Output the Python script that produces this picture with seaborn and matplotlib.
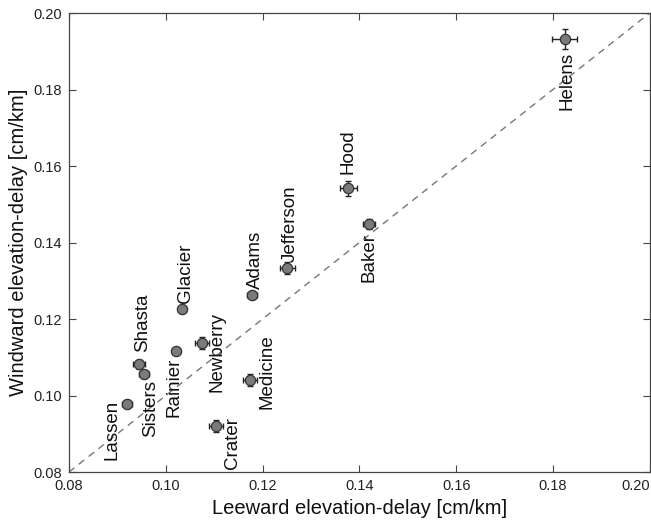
import numpy as np
import pandas as pd
import matplotlib
matplotlib.use("Agg")
import matplotlib.pyplot as plt
import seaborn as sns

# volcano names and delay gradients
volcanoes = ["Helens", "Hood", "Baker", "Jefferson", "Adams", "Glacier", "Newberry",
             "Rainier", "Shasta", "Sisters", "Lassen", "Crater", "Medicine"]
leeward = [0.1824, 0.1377, 0.1420, 0.1251, 0.1178, 0.1034, 0.1075,
           0.1021, 0.0945, 0.0955, 0.0920, 0.1104, 0.1174]
windward = [0.1932, 0.1542, 0.1448, 0.1333, 0.1262, 0.1226, 0.1137,
            0.1116, 0.1082, 0.1056, 0.0978, 0.0920, 0.1040]
leeward_err = [0.0026, 0.0018, 0.0013, 0.0015, 0.0010, 0.0007, 0.0015,
               0.0008, 0.0012, 0.0010, 0.0010, 0.0015, 0.0015]
windward_err = [0.0026, 0.0020, 0.0013, 0.0015, 0.0010, 0.0007, 0.0015,
                0.0008, 0.0012, 0.0010, 0.0010, 0.0015, 0.0015]

# label placement (pixel offset from point, vertical alignment)
label_dx = [2, 0, 0, 3, 4, 3, 15, -2, 3, 7, -15, 16, 17]
label_dy = [-13, 14, -9, 6, 6, 6, -9, -6, 12, -6, 4, 9, 9]
label_va = ["top", "bottom", "top", "bottom", "bottom", "bottom", "center",
            "top", "bottom", "top", "top", "top", "center"]

df = pd.DataFrame({"volcano": volcanoes, "leeward": leeward, "windward": windward,
                   "xerr": leeward_err, "yerr": windward_err})

sns.set_theme(style="ticks")
plt.rcParams["font.family"] = ["Liberation Sans", "DejaVu Sans"]

fig = plt.figure(figsize=(6.51, 5.21), dpi=100)
ax = fig.add_axes([0.106, 0.094, 0.892, 0.881])

lims = [0.08, 0.20]
ax.plot(lims, lims, ls=(0, (5, 4)), color="#777777", lw=1.0, zorder=1)

ax.errorbar(df["leeward"], df["windward"], xerr=df["xerr"], yerr=df["yerr"],
            fmt="none", ecolor="#222222", elinewidth=1.0, capsize=2.0,
            capthick=1.0, zorder=2)
sns.scatterplot(data=df, x="leeward", y="windward", ax=ax, s=55,
                color="#7a7a7a", edgecolor="#333333", linewidth=0.9, zorder=3)

for i, name in enumerate(volcanoes):
    ax.annotate(name, (leeward[i], windward[i]), xytext=(label_dx[i], label_dy[i]),
                textcoords="offset pixels", rotation=90, ha="center",
                va=label_va[i], fontsize=13.5, color="#111111")

ax.set_xlim(lims)
ax.set_ylim(lims)
ticks = [0.08, 0.10, 0.12, 0.14, 0.16, 0.18, 0.20]
ax.set_xticks(ticks)
ax.set_yticks(ticks)
ax.set_xticklabels([f"{t:.2f}" for t in ticks])
ax.set_yticklabels([f"{t:.2f}" for t in ticks])
ax.tick_params(direction="in", length=5, width=0.8, colors="#444444",
               labelcolor="#222222", labelsize=10.5, top=True, right=True, pad=5)
# last x tick label sits flush with the right edge, as in the original
ax.get_xticklabels()[-1].set_horizontalalignment("right")
for sp in ax.spines.values():
    sp.set_color("#444444")
    sp.set_linewidth(0.9)

ax.set_xlabel("Leeward elevation-delay [cm/km]", fontsize=14.5, color="#111111", labelpad=4)
ax.set_ylabel("Windward elevation-delay [cm/km]", fontsize=14.5, color="#111111", labelpad=4)

fig.savefig("out.png", dpi=100)
